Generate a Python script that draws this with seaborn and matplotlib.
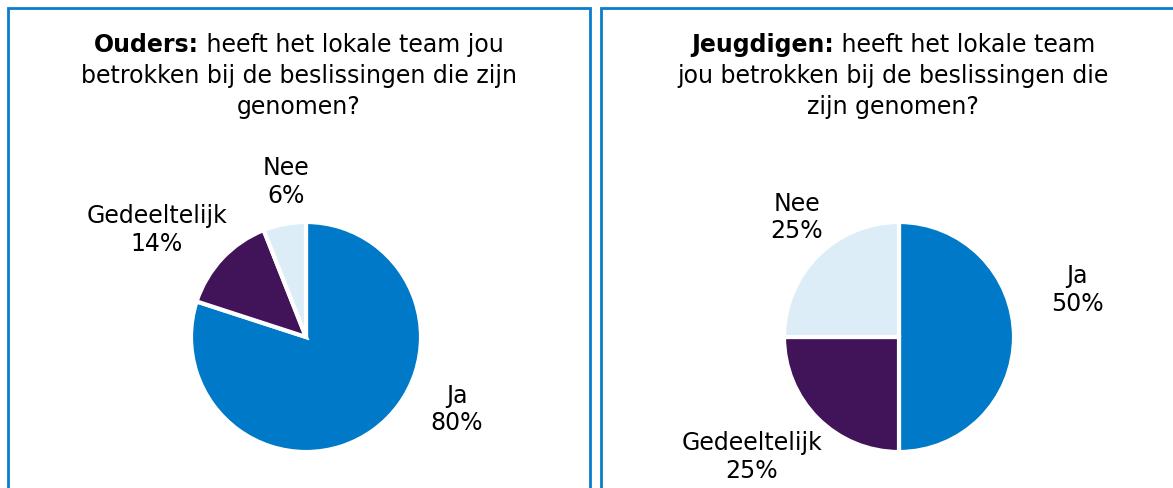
import matplotlib
matplotlib.use("Agg")
import matplotlib.pyplot as plt
from matplotlib.patches import Rectangle
import seaborn as sns

# data
categories = ["Ja", "Gedeeltelijk", "Nee"]
ouders = [80, 14, 6]
jeugdigen = [50, 25, 25]
title_bold = ["Ouders:", "Jeugdigen:"]
title_lines = [
    [" heeft het lokale team jou", "betrokken bij de beslissingen die zijn", "genomen?"],
    [" heeft het lokale team", "jou betrokken bij de beslissingen die", "zijn genomen?"],
]
colors = ["#0079c8", "#41145a", "#ddedf8"]

# label offsets (pie radius = 1)
label_pos = [
    [(1.31, -0.63), (-1.30, 0.93), (-0.17, 1.35)],
    [(1.55, 0.41), (-1.28, -1.04), (-0.89, 1.04)],
]

sns.set_theme(style="white")
plt.rcParams["font.family"] = ["DejaVu Sans"]
plt.rcParams["text.color"] = "black"

W, H = 1173, 488
FS = 17
fig = plt.figure(figsize=(W / 100, H / 100), dpi=100)
renderer = fig.canvas.get_renderer()

R = 115
K = 1.9
centers = [(306, 337), (899, 337)]
title_x = [299, 893]
title_y = [45, 76, 107]

# panel frames
for x0, x1 in [(8, 590), (601, 1190)]:
    fig.patches.append(Rectangle((x0 / W, -0.1), (x1 - x0) / W, (H - 8) / H + 0.1,
                                 transform=fig.transFigure, fill=False,
                                 edgecolor="#0a7dcc", linewidth=2))

for i, vals in enumerate([ouders, jeugdigen]):
    cx, cy = centers[i]
    half = R * K
    ax = fig.add_axes([(cx - half) / W, (H - cy - half) / H, 2 * half / W, 2 * half / H])
    ax.pie(vals, colors=colors, startangle=90, counterclock=False,
           wedgeprops=dict(edgecolor="white", linewidth=3))
    ax.set_xlim(-K, K)
    ax.set_ylim(-K, K)
    ax.set_aspect("equal")
    ax.axis("off")
    for (lx, ly), cat, v in zip(label_pos[i], categories, vals):
        ax.text(lx, ly, f"{cat}\n{v}%", ha="center", va="center", fontsize=FS,
                color="black", clip_on=False, linespacing=1.2)

    # title: bold lead + normal text on first line
    tx = title_x[i]
    tb = fig.text(0, 1 - title_y[0] / H, title_bold[i], fontsize=FS, fontweight="bold",
                  ha="left", va="center", color="black")
    tr = fig.text(0, 1 - title_y[0] / H, title_lines[i][0], fontsize=FS,
                  ha="left", va="center", color="black")
    wb = tb.get_window_extent(renderer).width
    wr = tr.get_window_extent(renderer).width
    x_start = tx - (wb + wr) / 2
    tb.set_x(x_start / W)
    tr.set_x((x_start + wb) / W)
    for line, y in zip(title_lines[i][1:], title_y[1:]):
        fig.text(tx / W, 1 - y / H, line, fontsize=FS, ha="center", va="center",
                 color="black")

fig.savefig("out.png", dpi=100, facecolor="white")
